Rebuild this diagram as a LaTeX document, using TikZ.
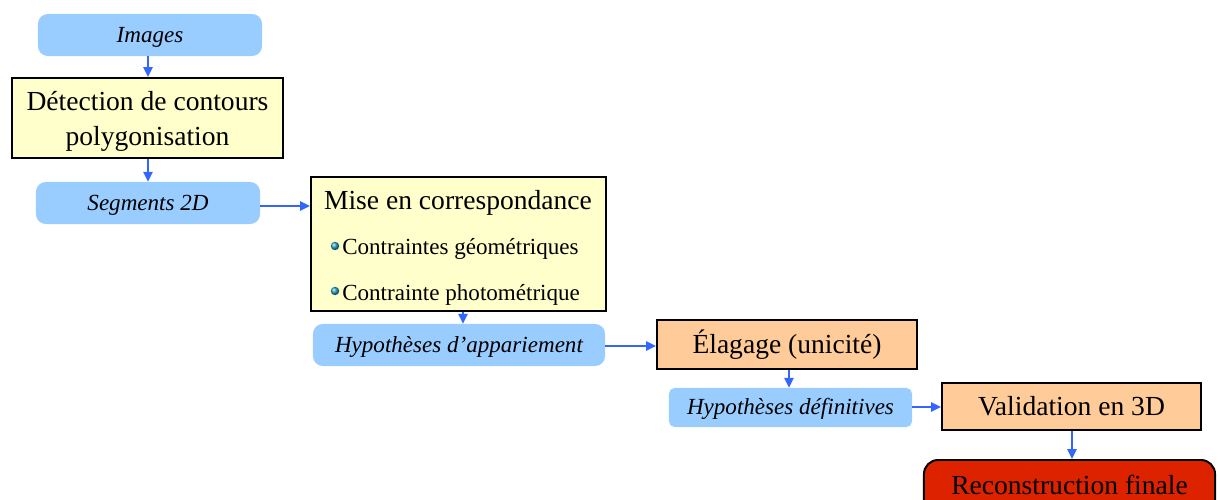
\documentclass[tikz,border=0pt]{standalone}
\usepackage{fontspec}
\setmainfont{Liberation Serif}
\usetikzlibrary{arrows.meta}
\definecolor{databg}{HTML}{99CCFF}
\definecolor{procbg}{HTML}{FFFFCC}
\definecolor{stepbg}{HTML}{FFCC99}
\definecolor{finalbg}{HTML}{DD2200}
\definecolor{linkblue}{HTML}{3366FF}
\definecolor{balltone}{HTML}{22A0C0}

\begin{document}
\begin{tikzpicture}[x=0.025cm, y=-0.025cm, inner sep=0pt,
    small/.style={font=\fontsize{16.4}{20}\selectfont, text height=12pt, text depth=1.5pt},
    large/.style={font=\fontsize{19.6}{25}\selectfont, text height=14.5pt, text depth=1.5pt},
    datum/.style={small, rounded corners=7pt, fill=databg, font=\fontsize{16.4}{20}\selectfont\itshape},
    process/.style={draw, line width=1.4pt, fill=procbg, font=\fontsize{19.6}{25}\selectfont, align=center},
    check/.style={large, draw, line width=1.4pt, fill=stepbg},
    result/.style={large, draw, line width=1.4pt, rounded corners=10pt, fill=finalbg},
    item/.style={small, anchor=west},
    link/.style={-{Triangle[length=7pt,width=6.5pt]}, linkblue, line width=1.4pt}]
        \useasboundingbox (0,0) rectangle (1218,500);
        \clip (0,0) rectangle (1218,500);
        \node[datum, minimum width=5.6cm, minimum height=1.05cm](img) at (150,35){Images};
        \node[process, minimum width=6.775cm, minimum height=2cm](det) at (147.5,118){};
        \node[process, draw=none, fill=none](dettext) at (147.5,121){D\'etection de contours\\polygonisation};
        \node[datum, minimum width=5.6cm, minimum height=1.05cm](seg) at (148,203){Segments 2D};
        \node[process, minimum width=7.375cm, minimum height=3.35cm](mise) at (458.5,244){};
        \node[large](misetitle) at (458,200){Mise en correspondance};
        \node[item](geo) at (342,247){Contraintes g\'eom\'etriques};
        \node[item](photo) at (342,293){Contrainte photom\'etrique};
        \shade[ball color=balltone] (335,246) circle (3pt);
        \shade[ball color=balltone] (335,291) circle (3pt);
        \node[datum, minimum width=7.3cm, minimum height=1.05cm](happ) at (459,345){Hypoth\`eses d’appariement};
        \node[check, minimum width=6.5cm, minimum height=1.225cm](elag) at (787,344.5){\'Elagage (unicit\'e)};
        \node[datum, rounded corners=4pt, minimum width=6.075cm, minimum height=0.975cm](hdef) at (790.5,407.5){Hypoth\`eses d\'efinitives};
        \node[check, minimum width=6.475cm, minimum height=1.175cm](valid) at (1071.5,406.5){Validation en 3D};
        \node[result, minimum width=7.275cm, minimum height=1.4cm](recon) at (1069.5,488){\raisebox{2pt}{Reconstruction finale}};
        \draw[link] (img.south -| 148,0) -- (148,0 |- det.north);
        \draw[link] (det.south -| 148,0) -- (148,0 |- seg.north);
        \draw[link] (seg.east |- 0,206) -- (mise.west |- 0,206);
        \draw[link] (mise.south -| 463,0) -- (463,0 |- happ.north);
        \draw[link] (happ.east |- 0,346) -- (elag.west |- 0,346);
        \draw[link] (elag.south -| 789,0) -- (789,0 |- hdef.north);
        \draw[link] (hdef.east |- 0,407) -- (valid.west |- 0,407);
        \draw[link] (valid.south -| 1072,0) -- (1072,0 |- recon.north);
    \end{tikzpicture}
\end{document}
